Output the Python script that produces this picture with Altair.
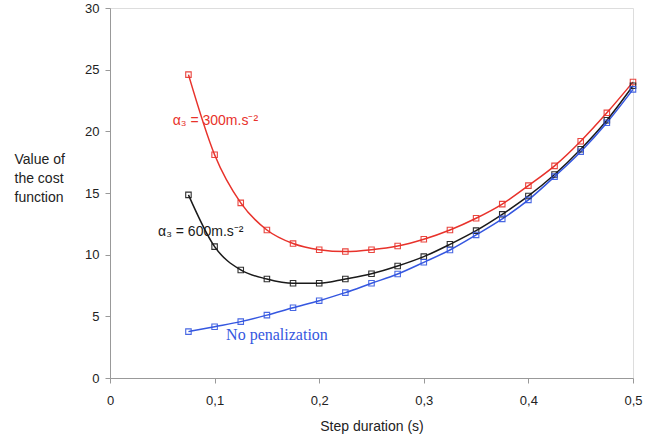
import altair as alt
import pandas as pd

step = [0.075, 0.1, 0.125, 0.15, 0.175, 0.2, 0.225, 0.25, 0.275, 0.3,
        0.325, 0.35, 0.375, 0.4, 0.425, 0.45, 0.475, 0.5]
cost_300 = [24.6, 18.1, 14.2, 12.0, 10.9, 10.4, 10.25, 10.4, 10.7, 11.25,
            12.0, 12.95, 14.1, 15.6, 17.2, 19.2, 21.5, 24.0]
cost_600 = [14.85, 10.65, 8.76, 8.03, 7.68, 7.68, 8.03, 8.45, 9.08, 9.84,
            10.84, 11.95, 13.27, 14.76, 16.5, 18.55, 20.9, 23.7]
cost_none = [3.76, 4.16, 4.57, 5.1, 5.7, 6.27, 6.92, 7.68, 8.43, 9.38,
             10.38, 11.6, 12.9, 14.44, 16.33, 18.35, 20.7, 23.4]

series_names = ["300", "600", "none"]
series_colors = ["#e8322b", "#1a1a1a", "#3557e0"]

rows = []
for name, vals in zip(series_names, [cost_300, cost_600, cost_none]):
    for s, v in zip(step, vals):
        rows.append({"step": s, "cost": v, "series": name})
df = pd.DataFrame(rows)

label_text = ["α₃ = 300m.s⁻²", "α₃ = 600m.s⁻²", "No penalization"]
label_x = [0.06, 0.046, 0.111]
label_y = [20.8, 11.8, 3.5]

x_scale = alt.Scale(domain=[0, 0.5], nice=False, zero=True)
y_scale = alt.Scale(domain=[0, 30], nice=False)
color_scale = alt.Scale(domain=series_names, range=series_colors)

x_enc = alt.X("step:Q", scale=x_scale,
              axis=alt.Axis(values=[0, 0.1, 0.2, 0.3, 0.4, 0.5],
                            labelExpr="datum.value == 0 ? '0' : replace(format(datum.value, '.1f'), '.', ',')",
                            title="Step duration (s)", grid=False, labelFlush=False,
                            domainColor="#999999", tickColor="#999999", tickSize=5,
                            labelFont="Liberation Sans", labelFontSize=13, labelColor="#222222",
                            labelPadding=11,
                            titleFont="Liberation Sans", titleFontSize=14, titleFontWeight="normal",
                            titleColor="#222222", titlePadding=12))
y_enc = alt.Y("cost:Q", scale=y_scale,
              axis=alt.Axis(values=[0, 5, 10, 15, 20, 25, 30], grid=False, labelFlush=False,
                            domainColor="#999999", tickColor="#999999", tickSize=5,
                            labelFont="Liberation Sans", labelFontSize=13, labelColor="#222222",
                            labelPadding=6,
                            title=["Value of", "the cost", "function"],
                            titleAngle=0, titleAlign="left", titleBaseline="middle",
                            titleX=-96, titleY=151, titleLineHeight=19,
                            titleFont="Liberation Sans", titleFontSize=14, titleFontWeight="normal",
                            titleColor="#222222"))

base = alt.Chart(df)
lines = base.mark_line(interpolate="monotone", strokeWidth=1.5).encode(
    x=x_enc, y=y_enc,
    color=alt.Color("series:N", scale=color_scale, legend=None),
    detail="series:N",
)
points = base.mark_point(shape="square", size=30, filled=False, strokeWidth=1.1, opacity=0.9).encode(
    x="step:Q", y="cost:Q",
    color=alt.Color("series:N", scale=color_scale, legend=None),
)

lab_df = pd.DataFrame({"text": label_text, "x": label_x, "y": label_y,
                       "series": series_names})
lab_sans = alt.Chart(lab_df.iloc[:2]).mark_text(align="left", baseline="middle",
                                                font="Liberation Sans", fontSize=14).encode(
    x="x:Q", y="y:Q", text="text:N",
    color=alt.Color("series:N", scale=color_scale, legend=None),
)
lab_serif = alt.Chart(lab_df.iloc[2:]).mark_text(align="left", baseline="middle",
                                                 font="Liberation Serif", fontSize=16).encode(
    x="x:Q", y="y:Q", text="text:N",
    color=alt.Color("series:N", scale=color_scale, legend=None),
)

chart = alt.layer(lines, points, lab_sans, lab_serif).properties(
    width=523, height=370,
    autosize=alt.AutoSizeParams(type="none"),
    padding={"left": 110, "top": 8, "right": 27, "bottom": 59},
).configure_view(stroke=None).configure(background="white")

chart.save("out.html", embed_options={"renderer": "svg", "actions": False})
